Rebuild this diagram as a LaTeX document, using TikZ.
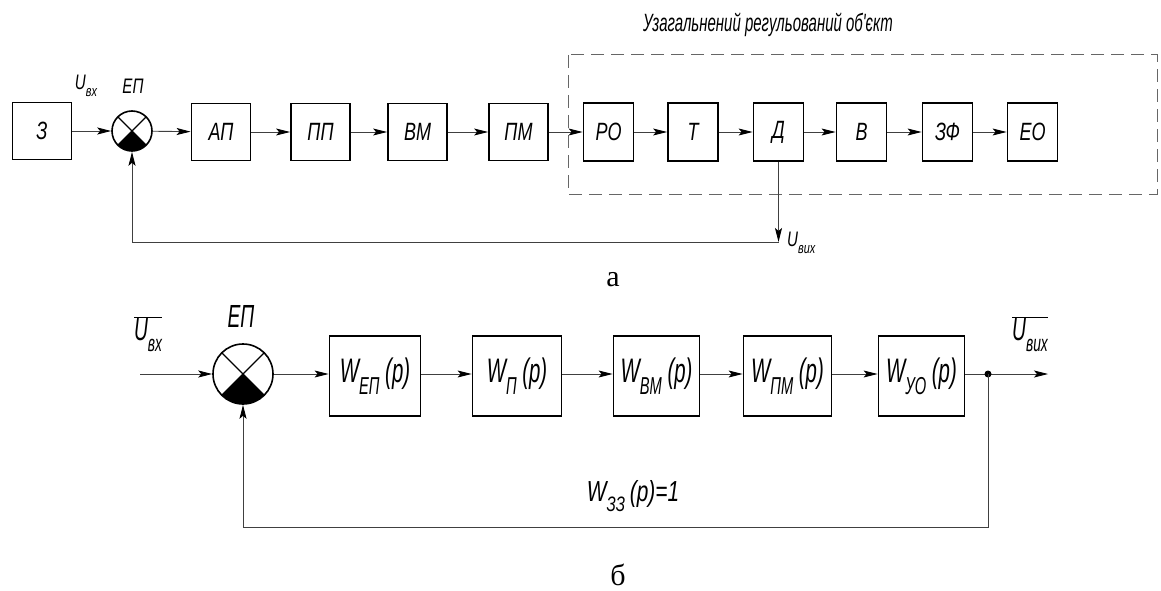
\documentclass[tikz,border=0pt]{standalone}
\usepackage{fontspec}
\usepackage{graphicx}
\usetikzlibrary{arrows.meta}
\newfontfamily\gost{Liberation Sans}[FakeStretch=0.72]
\newfontfamily\gostn{Liberation Sans}[FakeStretch=0.6]
\newfontfamily\capfont{Liberation Serif}
\newcommand\lowsub[1]{\raisebox{-0.35em}{\scalebox{0.72}{#1}}}
\newcommand\sumdecor[2]{%
  \fill (#1.center) -- ++(-135:#2) arc[start angle=-135,end angle=-45,radius=#2] -- cycle;
  \draw[line width=1.4pt] (#1.center) +(45:#2) -- +(-135:#2) +(135:#2) -- +(-45:#2);}
\begin{document}
\begin{tikzpicture}[x=1pt,y=1pt,
  blk/.style={draw, line width=1.8pt, inner sep=0pt, font=\gost\itshape\fontsize{25}{27}\selectfont},
  sblk/.style={blk, minimum width=50pt, minimum height=58pt},
  wblk/.style={blk, minimum width=59pt, minimum height=57pt},
  bblk/.style={draw, line width=1.8pt, inner sep=0pt, minimum height=80pt, font=\gostn\itshape\fontsize{34}{36}\selectfont},
  sumj/.style={circle, draw, line width=1.6pt, inner sep=0pt},
  conn/.style={-{Stealth[length=14pt,width=7pt,inset=3pt,black]}, line width=0.9pt, draw=black!75},
  fline/.style={line width=0.9pt, draw=black!75},
  lbl/.style={font=\gost\itshape\fontsize{21}{23}\selectfont, inner sep=0pt},
  blbl/.style={font=\gostn\itshape\fontsize{32}{34}\selectfont, inner sep=0pt},
  capt/.style={font=\capfont\fontsize{30}{32}\selectfont, inner sep=0pt}
]
\useasboundingbox (0,0) rectangle (1161,-591);

% ---------- diagram a ----------
\draw[line width=1pt, draw=black!60, dash pattern=on 13pt off 7pt] (568,-55) rectangle (1157,-194);
\node[font=\gostn\itshape\fontsize{25}{27}\selectfont, inner sep=0pt] (title) at (768,-25) {Узагальнений регульований об'єкт};

\node[wblk] (z) at (42,-131) {З};
\node[sumj, minimum size=40pt] (s1) at (132,-131) {};
\sumdecor{s1}{20pt}
\node[wblk] (ap) at (221,-132) {АП};
\node[wblk] (pp) at (320.5,-132) {ПП};
\node[wblk] (vm) at (417.5,-132) {ВМ};
\node[wblk] (pm) at (518.5,-132) {ПМ};
\node[sblk] (ro) at (608.5,-132) {РО};
\node[sblk] (t) at (693,-132) {Т};
\node[sblk] (d) at (778.5,-132) {Д};
\node[sblk] (v) at (861.5,-132) {В};
\node[sblk] (zf) at (947.5,-132) {ЗФ};
\node[sblk] (eo) at (1032.5,-132) {ЕО};

\draw[conn] (z) -- (s1);
\draw[conn] (s1) -- (ap);
\draw[conn] (ap) -- (pp);
\draw[conn] (pp) -- (vm);
\draw[conn] (vm) -- (pm);
\draw[conn] (pm) -- (ro);
\draw[conn] (ro) -- (t);
\draw[conn] (t) -- (d);
\draw[conn] (d) -- (v);
\draw[conn] (v) -- (zf);
\draw[conn] (zf) -- (eo);

\coordinate (fa) at (778.5,-242);
\draw[conn] (d.south) -- (fa);
\draw[conn] (fa) -| (s1.south);

\node[lbl] (ubx) at (86,-86) {U\lowsub{вх}};
\node[lbl] (ep1) at (133,-86) {ЕП};
\node[lbl, anchor=west] (ubux) at (787,-243) {U\lowsub{вих}};

\node[capt] (ca) at (613,-280) {а};

% ---------- diagram b ----------
\node[sumj, minimum size=60pt] (s2) at (243,-374) {};
\sumdecor{s2}{30pt}
\node[bblk, minimum width=91pt] (w1) at (375,-376) {W\lowsub{ЕП}\,(p)};
\node[bblk, minimum width=89pt] (w2) at (517,-376) {W\lowsub{П}\,(p)};
\node[bblk, minimum width=86pt] (w3) at (656.5,-376) {W\lowsub{ВМ}\,(p)};
\node[bblk, minimum width=88pt] (w4) at (787.5,-376) {W\lowsub{ПМ}\,(p)};
\node[bblk, minimum width=86pt] (w5) at (921.5,-376) {W\lowsub{УО}\,(p)};

\coordinate (in2) at (140,-374);
\coordinate (dot) at (988,-374);
\coordinate (out2) at (1048,-374);
\coordinate (fb2) at (988,-527);

\draw[conn] (in2) -- (s2);
\draw[conn] (s2) -- (s2 -| w1.west);
\draw[conn] (w1.east |- s2) -- (w2.west |- s2);
\draw[conn] (w2.east |- s2) -- (w3.west |- s2);
\draw[conn] (w3.east |- s2) -- (w4.west |- s2);
\draw[conn] (w4.east |- s2) -- (w5.west |- s2);
\draw[fline] (w5.east |- s2) -- (dot);
\draw[conn] (dot) -- (out2);
\fill (dot) circle (3.5pt);
\draw[conn] (dot) -- (fb2) -| (s2.south);

\node[blbl] (ubx2) at (148,-334) {$\overline{\mbox{U\lowsub{вх}}}$};
\node[blbl] (ep2) at (241,-316) {ЕП};
\node[blbl] (ubux2) at (1030,-334) {$\overline{\mbox{U\lowsub{вих}}}$};
\node[font=\gost\itshape\fontsize{29}{31}\selectfont, inner sep=0pt] (w33) at (633,-496) {W\lowsub{ЗЗ}\,(p)=1};

\node[capt] (cb) at (618,-575) {б};
\end{tikzpicture}
\end{document}
